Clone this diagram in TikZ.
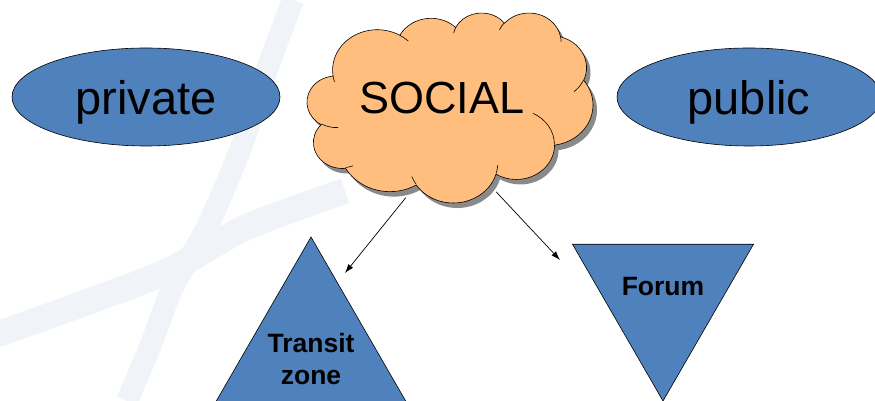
\documentclass[tikz,border=0pt]{standalone}
\usepackage{fontspec}
\setmainfont{Liberation Sans}
\usepackage{tikz}
\usetikzlibrary{positioning, arrows.meta, shapes.geometric}

\definecolor{zoneblue}{RGB}{79,129,189}
\definecolor{cloudfill}{RGB}{255,190,125}
\definecolor{cloudshade}{RGB}{138,138,138}
\definecolor{wmark}{RGB}{240,243,248}

% cloud outline, drawn in a 432 x 432 box with y pointing down
\newcommand{\cloudpath}{(39.00,143.70)
  arc[start angle=-187.75, delta angle=128.11, x radius=67.53, y radius=91.90]
  arc[start angle=-152.03, delta angle=106.58, x radius=53.33, y radius=72.67]
  arc[start angle=-153.49, delta angle=116.16, x radius=43.65, y radius=59.45]
  arc[start angle=-139.70, delta angle=129.49, x radius=48.57, y radius=65.95]
  arc[start angle=-74.77, delta angle=97.98, x radius=53.33, y radius=72.73]
  arc[start angle=-37.53, delta angle=119.39, x radius=67.75, y radius=92.20]
  arc[start angle=0.46, delta angle=121.52, x radius=57.85, y radius=78.67]
  arc[start angle=16.84, delta angle=129.40, x radius=67.52, y radius=92.15]
  arc[start angle=58.98, delta angle=91.22, x radius=77.20, y radius=105.43]
  arc[start angle=83.31, delta angle=139.82, x radius=43.60, y radius=59.18]
  arc[start angle=120.36, delta angle=143.75, x radius=43.45, y radius=59.45] -- cycle}

\begin{document}
\begin{tikzpicture}[
  x=1pt, y=1pt,
  blob/.style={ellipse, draw, line width=0.6pt, fill=zoneblue, minimum width=268pt, minimum height=98pt, inner sep=0pt, text depth=0pt, font=\fontsize{47}{56}\selectfont},
  tri/.style={regular polygon, regular polygon sides=3, draw, line width=0.6pt, fill=zoneblue, inner sep=0pt},
  tag/.style={align=center, inner sep=0pt, font=\bfseries\fontsize{26.5}{31.3}\selectfont},
  band/.style={draw=wmark, line width=22pt},
  arr/.style={-{Latex[length=9pt, width=6pt]}, line width=0.7pt}
]
  \useasboundingbox (0,0) rectangle (875,401);
  \clip (0,0) rectangle (875,401);

  % faint backdrop strokes
  \draw[band] plot[smooth] coordinates {(293,401) (268,334) (240,251) (207,174) (173,114) (150,54) (127,0)};
  \draw[band, line width=26pt] plot[smooth] coordinates {(345,210) (247,174) (170,131) (93,101) (-10,64)};

  % the cloud with its shadow
  \begin{scope}[shift={(311.2,383.6)}, xscale=0.6613, yscale=-0.4396]
    \fill[cloudshade] \cloudpath;
  \end{scope}
  \begin{scope}[shift={(307.2,388.6)}, xscale=0.6613, yscale=-0.4396]
    \filldraw[fill=cloudfill, draw=black, line width=0.6pt] \cloudpath;
    \draw[line width=0.6pt]
      (46.93,261.77) arc[start angle=85.55, delta angle=34.81, x radius=43.45, y radius=59.45]
      (69.28,348.99) arc[start angle=68.23, delta angle=15.08, x radius=43.60, y radius=59.18]
      (164.78,390.90) arc[start angle=146.24, delta angle=12.23, x radius=67.52, y radius=92.15]
      (288.27,347.51) arc[start angle=4.74, delta angle=12.10, x radius=67.52, y radius=92.15]
      (341.29,229.54) arc[start angle=-64.03, delta angle=64.49, x radius=57.85, y radius=78.67]
      (417.98,153.54) arc[start angle=23.21, delta angle=26.42, x radius=53.33, y radius=72.73]
      (383.24,54.26) arc[start angle=-10.21, delta angle=11.03, x radius=48.57, y radius=65.95]
      (290.78,39.52) arc[start angle=-156.29, delta angle=16.59, x radius=48.57, y radius=65.95]
      (221.41,47.20) arc[start angle=-167.73, delta angle=14.24, x radius=43.65, y radius=59.45]
      (140.00,51.92) arc[start angle=-59.64, delta angle=13.90, x radius=67.53, y radius=91.90]
      (41.27,157.89) arc[start angle=163.19, delta angle=9.06, x radius=67.53, y radius=91.90];
  \end{scope}

  \node[blob] (private) at (146,304) {private};
  \node[blob, minimum width=264pt] (public) at (749,304) {public};
  \node[ellipse, minimum width=250pt, minimum height=208pt, inner sep=0pt, text depth=0pt,
        font=\fontsize{45}{54}\selectfont] (social) at (442,303) {SOCIAL};

  \node[tri, minimum size=231pt] (transit) at (311,48.5) {};
  \node[tri, minimum size=209pt, shape border rotate=180] (forum) at (663,104.5) {};
  \node[tag] (transitlbl) at (311,42) {Transit\\zone};
  \node[tag] (forumlbl) at (663,114.5) {Forum};

  \coordinate (tipL) at (345,128);
  \coordinate (tipR) at (560,141);
  \draw[arr] (social.250) -- (tipL);
  \draw[arr] (social.300) -- (tipR);
\end{tikzpicture}
\end{document}
